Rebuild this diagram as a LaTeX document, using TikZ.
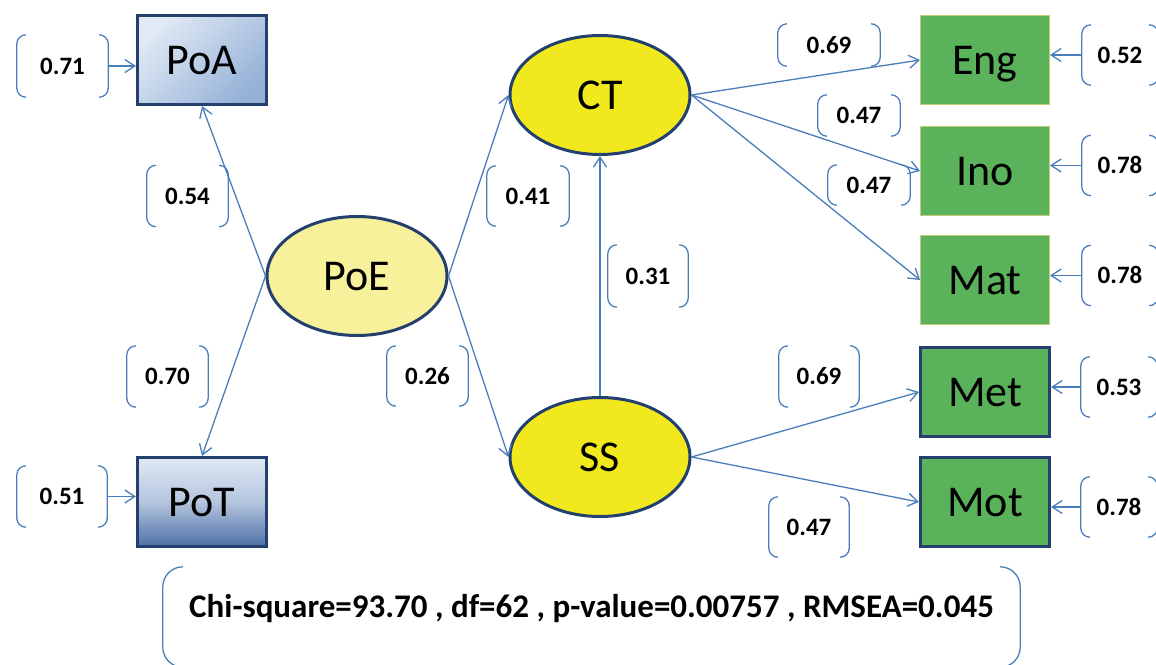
\documentclass[tikz,border=0pt]{standalone}
\usepackage{fontspec}
\setmainfont{Carlito}
\usetikzlibrary{arrows.meta,shapes.geometric}

\definecolor{linkblue}{RGB}{74,126,187}
\definecolor{edgeblue}{RGB}{36,64,110}
\definecolor{paleyellow}{RGB}{247,241,155}
\definecolor{brightyellow}{RGB}{241,233,30}
\definecolor{boxgreen}{RGB}{90,178,90}
\definecolor{greenedge}{RGB}{196,204,120}
\definecolor{poalight}{RGB}{224,233,245}
\definecolor{poadark}{RGB}{150,178,215}
\definecolor{potdark}{RGB}{78,112,168}

\tikzset{
  observed/.style={rectangle, minimum width=129pt, minimum height=89pt, inner sep=0pt,
    text height=28pt, text depth=0pt, font=\fontsize{44}{50}\selectfont},
  latent/.style={ellipse, draw=edgeblue, line width=3pt, minimum width=180pt,
    minimum height=119pt, inner sep=0pt, text height=28pt, text depth=0pt,
    font=\fontsize{44}{50}\selectfont},
  coef/.style={inner sep=0pt, minimum width=81pt, minimum height=61pt,
    text height=16pt, text depth=0pt, font=\bfseries\fontsize{25}{30}\selectfont},
  link/.style={draw=linkblue, line width=1.3pt, -{Straight Barb[length=10pt,width=13pt]}},
  brk/.style={draw=linkblue, line width=1.3pt, rounded corners=9pt},
}

\begin{document}
\begin{tikzpicture}[x=1pt, y=-1pt]
  \useasboundingbox (0,0) rectangle (1156,664);

  % latent variables
  \node[latent, fill=paleyellow] (PoE) at (357,276) {PoE};
  \node[latent, fill=brightyellow] (CT) at (600,95) {CT};
  \node[latent, fill=brightyellow] (SS) at (600,457) {SS};

  % indicators
  \node[observed, draw=edgeblue, line width=3pt, top color=poalight, bottom color=poadark,
    shading angle=45] (PoA) at (202,60) {PoA};
  \node[observed, draw=edgeblue, line width=3pt, top color=poalight, bottom color=potdark,
    middle color=poalight!70!potdark] (PoT) at (202,502) {PoT};
  \node[observed, fill=boxgreen, draw=greenedge, line width=1pt] (Eng) at (985,60) {Eng};
  \node[observed, fill=boxgreen, draw=greenedge, line width=1pt] (Ino) at (985,171) {Ino};
  \node[observed, fill=boxgreen, draw=greenedge, line width=1pt] (Mat) at (985,280) {Mat};
  \node[observed, fill=boxgreen, draw=edgeblue, line width=3pt] (Met) at (985,392) {Met};
  \node[observed, fill=boxgreen, draw=edgeblue, line width=3pt] (Mot) at (985,502) {Mot};

  % path coefficients
  \node[coef, minimum width=91pt, minimum height=62pt] (rPoA) at (62.5,66) {0.71};
  \node[coef] (lPoA) at (187.5,196) {0.54};
  \node[coef] (lPoT) at (167.5,376.5) {0.70};
  \node[coef, minimum width=90pt] (rPoT) at (62,496.5) {0.51};
  \node[coef, minimum width=82pt, minimum height=60pt] (pCT) at (528,196) {0.41};
  \node[coef, minimum height=60pt] (pSS) at (427.5,376) {0.26};
  \node[coef, minimum width=80pt, minimum height=62pt] (pSSCT) at (648,276) {0.31};
  \node[coef, minimum width=102pt, minimum height=42pt] (lEng) at (829,45) {0.69};
  \node[coef, minimum width=82pt, minimum height=41pt] (lIno) at (859,115.5) {0.47};
  \node[coef, minimum width=82pt, minimum height=40pt] (lMat) at (869,185) {0.47};
  \node[coef, minimum width=80pt] (lMet) at (819,376.5) {0.69};
  \node[coef, minimum width=80pt, minimum height=60pt] (lMot) at (809,527) {0.47};
  \node[coef, minimum width=76pt, minimum height=60pt] (rEng) at (1120,55) {0.52};
  \node[coef, minimum width=76pt, minimum height=60pt] (rIno) at (1120,165.5) {0.78};
  \node[coef, minimum width=76pt, minimum height=60pt] (rMat) at (1120,275.5) {0.78};
  \node[coef, minimum width=76pt, minimum height=60pt] (rMet) at (1119,387) {0.53};
  \node[coef, minimum width=76pt, minimum height=60pt] (rMot) at (1119,507) {0.78};

  \foreach \n in {rPoA,lPoA,lPoT,rPoT,pCT,pSS,pSSCT,lEng,lIno,lMat,lMet,lMot,rEng,rIno,rMat,rMet,rMot} {
    \draw[brk] ([xshift=9pt]\n.north west) -- (\n.north west) -- (\n.south west) -- ([xshift=9pt]\n.south west);
    \draw[brk] ([xshift=-9pt]\n.north east) -- (\n.north east) -- (\n.south east) -- ([xshift=-9pt]\n.south east);
  }

  % fit indices
  \node[inner sep=0pt, minimum width=857pt, minimum height=100pt, text height=22pt, text depth=22pt,
    font=\bfseries\fontsize{33}{38}\selectfont] (gof) at (591.5,617)
    {Chi-square=93.70 , df=62 , p-value=0.00757 , RMSEA=0.045};
  \draw[brk, rounded corners=20pt] ([xshift=20pt]gof.north west) -- (gof.north west) -- (gof.south west) -- ([xshift=20pt]gof.south west);
  \draw[brk, rounded corners=20pt] ([xshift=-20pt]gof.north east) -- (gof.north east) -- (gof.south east) -- ([xshift=-20pt]gof.south east);

  % structural paths
  \draw[link] (PoE.west) -- (PoA.south);
  \draw[link] (PoE.west) -- (PoT.north);
  \draw[link] (PoE.east) -- (CT.west);
  \draw[link] (PoE.east) -- (SS.west);
  \draw[link] (SS.north) -- (CT.south);
  \draw[link] (CT.east) -- (Eng.west);
  \draw[link] (CT.east) -- (Ino.west);
  \draw[link] (CT.east) -- (Mat.west);
  \draw[link] (SS.east) -- (Met.west);
  \draw[link] (SS.east) -- (Mot.west);

  % error terms
  \draw[link] (rPoA.east) -- (rPoA.east -| PoA.west);
  \draw[link] (rPoT.east) -- (rPoT.east -| PoT.west);
  \draw[link] (rEng.west) -- (rEng.west -| Eng.east);
  \draw[link] (rIno.west) -- (rIno.west -| Ino.east);
  \draw[link] (rMat.west) -- (rMat.west -| Mat.east);
  \draw[link] (rMet.west) -- (rMet.west -| Met.east);
  \draw[link] (rMot.west) -- (rMot.west -| Mot.east);
\end{tikzpicture}
\end{document}
